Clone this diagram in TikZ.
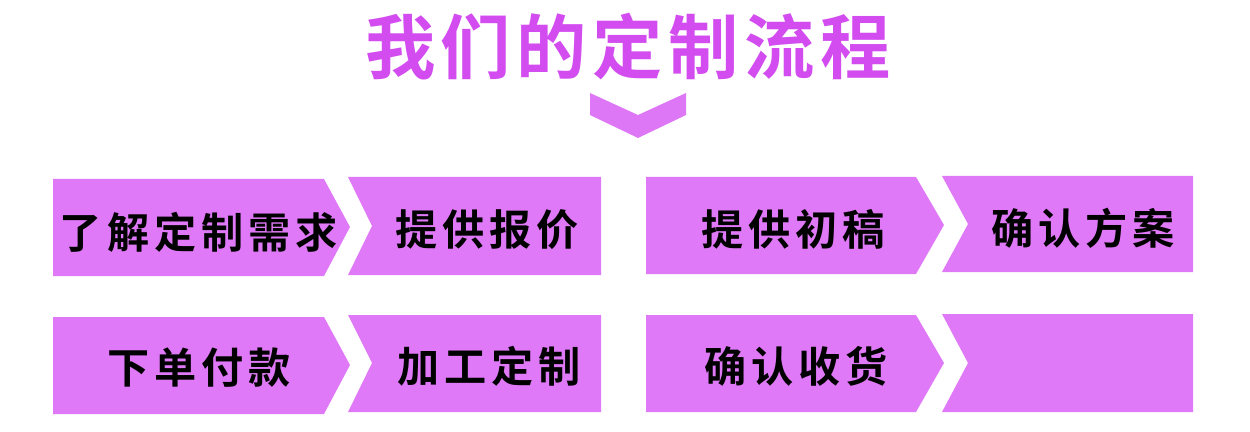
\documentclass[tikz,border=0pt]{standalone}
\usepackage{fontspec}
\newfontfamily\cjktitle{Noto Sans CJK SC Bold}[LetterSpace=8]
\newfontfamily\cjkstep{Noto Sans CJK SC Bold}[LetterSpace=12]
\definecolor{stepfill}{HTML}{DF79F7}
\definecolor{titlecol}{HTML}{D24CF0}
\definecolor{chevcol}{HTML}{DD77F5}
\tikzset{
  stepbox/.style={fill=stepfill},
  steptext/.style={inner sep=0pt, text=black, font=\cjkstep\fontsize{24}{24}\selectfont},
}
\begin{document}
\begin{tikzpicture}[x=0.02cm, y=-0.02cm]
\useasboundingbox (0,0) rectangle (1250,432);
\node[inner sep=0pt, text=titlecol, font=\cjktitle\fontsize{40}{40}\selectfont] (title) at (628,47) {我们的定制流程};
\fill[chevcol] (590,93) -- (638,115) -- (686,93) -- (686,115) -- (638,138) -- (590,115) -- cycle;
%Chevron under title

\fill[stepbox] (53,179) -- (324,179) -- (350,227) -- (324,276) -- (53,276) -- cycle;
\node[steptext] (need) at (199,232) {了解定制需求};
\fill[stepbox] (348,177) -- (601,177) -- (601,275) -- (348,275) -- (372,226) -- cycle;
\node[steptext] (quote) at (487,230) {提供报价};
\fill[stepbox] (646,177) -- (916,177) -- (944,225) -- (916,274) -- (646,274) -- cycle;
\node[steptext] (draft) at (793,229) {提供初稿};
\fill[stepbox] (942,176) -- (1193,176) -- (1193,272) -- (942,272) -- (968,224) -- cycle;
\node[steptext] (plan) at (1083,228) {确认方案};
%First row

\fill[stepbox] (53,317) -- (324,317) -- (350,365) -- (324,414) -- (53,414) -- cycle;
\node[steptext] (pay) at (199,368) {下单付款};
\fill[stepbox] (348,315) -- (601,315) -- (601,412) -- (348,412) -- (372,363) -- cycle;
\node[steptext] (make) at (489,366) {加工定制};
\fill[stepbox] (646,315) -- (916,315) -- (944,363) -- (916,412) -- (646,412) -- cycle;
\node[steptext] (receive) at (796,366) {确认收货};
\fill[stepbox] (942,314) -- (1193,314) -- (1193,412) -- (942,412) -- (968,363) -- cycle;
%Second row
\end{tikzpicture}
\end{document}
